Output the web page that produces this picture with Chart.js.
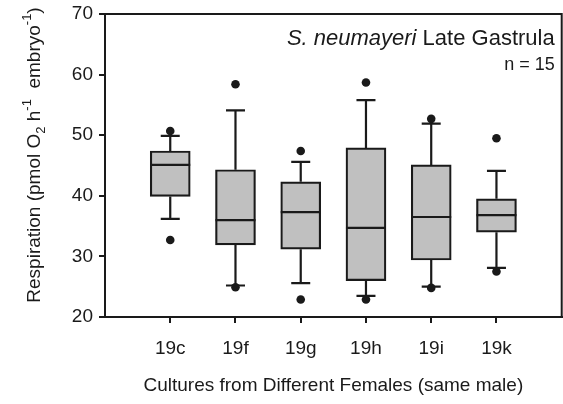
<!DOCTYPE html>
<html>
<head>
<meta charset="utf-8">
<script src="https://cdn.jsdelivr.net/npm/chart.js@4.4.1/dist/chart.umd.min.js"></script>
<style>
  html, body { margin: 0; padding: 0; background: #fff; overflow: hidden; }
  #wrap { width: 566px; height: 404px; position: relative; }
</style>
</head>
<body>
<div id="wrap"><canvas id="myChart"></canvas></div>
<script>
// Box plot values
const categories = ['19c', '19f', '19g', '19h', '19i', '19k'];
const q1 = [39.9, 31.9, 31.2, 26.0, 29.4, 34.0];
const medians = [45.1, 36.0, 37.3, 34.7, 36.5, 36.8];
const q3 = [47.4, 44.3, 42.3, 47.9, 45.1, 39.5];
const whiskerLow = [36.2, 25.2, 25.6, 23.5, 25.0, 28.1];
const whiskerHigh = [49.9, 54.1, 45.6, 55.8, 51.9, 44.1];
const outlierLow = [32.7, 24.9, 22.9, 22.9, 24.8, 27.5];
const outlierHigh = [50.7, 58.4, 47.4, 58.7, 52.7, 49.5];
const yTicks = [20, 30, 40, 50, 60, 70];

const ink = '#1a1a1a';
const fontName = '"Liberation Sans", Arial, sans-serif';

// whiskers, caps, medians, frame and the text labels
const boxParts = {
    id: 'boxParts',
    beforeDatasetsDraw(chart) {
        const ctx = chart.ctx;
        const xs = chart.scales.x, ys = chart.scales.y;
        ctx.save();
        ctx.strokeStyle = ink;
        ctx.lineWidth = 2.2;
        categories.forEach((c, i) => {
            const x = xs.getPixelForValue(i + 1);
            const capW = 9.5;
            [[q3[i], whiskerHigh[i]], [q1[i], whiskerLow[i]]].forEach(([from, to]) => {
                ctx.beginPath();
                ctx.moveTo(x, ys.getPixelForValue(from));
                ctx.lineTo(x, ys.getPixelForValue(to));
                ctx.moveTo(x - capW, ys.getPixelForValue(to));
                ctx.lineTo(x + capW, ys.getPixelForValue(to));
                ctx.stroke();
            });
        });
        ctx.restore();
    },
    afterDatasetsDraw(chart) {
        const ctx = chart.ctx;
        const ys = chart.scales.y;
        const bars = chart.getDatasetMeta(0).data;
        ctx.save();
        ctx.strokeStyle = ink;
        ctx.lineWidth = 2.2;
        bars.forEach((bar, i) => {
            const y = ys.getPixelForValue(medians[i]);
            ctx.beginPath();
            ctx.moveTo(bar.x - bar.width / 2, y);
            ctx.lineTo(bar.x + bar.width / 2, y);
            ctx.stroke();
        });
        // frame round the plot
        const a = chart.chartArea;
        ctx.lineWidth = 2;
        ctx.strokeRect(a.left, a.top, a.right - a.left, a.bottom - a.top);
        ctx.restore();
    },
    afterDraw(chart) {
        const ctx = chart.ctx;
        const a = chart.chartArea;
        ctx.save();
        ctx.fillStyle = ink;
        ctx.textBaseline = 'alphabetic';

        // title in the top right corner
        const right = a.right - 7;
        ctx.font = '22px ' + fontName;
        ctx.textAlign = 'right';
        ctx.fillText('Late Gastrula', right, a.top + 31);
        const w = ctx.measureText('Late Gastrula').width;
        ctx.font = 'italic 22px ' + fontName;
        ctx.fillText('S. neumayeri ', right - w, a.top + 31);
        ctx.font = '18px ' + fontName;
        ctx.fillText('n = 15', right, a.top + 56);

        // y axis title with sub- and superscripts
        const parts = [
            ['Respiration (pmol O', 19, 0],
            ['2', 13, 5],
            [' h', 19, 0],
            ['-1', 13, -9],
            ['  embryo', 19, 0],
            ['-1', 13, -9],
            [')', 19, 0]
        ];
        let total = 0;
        parts.forEach(p => {
            ctx.font = p[1] + 'px ' + fontName;
            total += ctx.measureText(p[0]).width;
        });
        ctx.translate(40, 155);
        ctx.rotate(-Math.PI / 2);
        ctx.textAlign = 'left';
        let cx = -total / 2;
        parts.forEach(p => {
            ctx.font = p[1] + 'px ' + fontName;
            ctx.fillText(p[0], cx, p[2]);
            cx += ctx.measureText(p[0]).width;
        });
        ctx.restore();
    }
};

function noPadding(s) {
    s.paddingLeft = 0; s.paddingRight = 0; s.paddingTop = 0; s.paddingBottom = 0;
}

const ctx = document.getElementById('myChart').getContext('2d');
new Chart(ctx, {
    type: 'bar',
    data: {
        datasets: [{
            type: 'bar',
            data: categories.map((c, i) => ({ x: i + 1, y: [q1[i], q3[i]] })),
            backgroundColor: '#c0c0c0',
            borderColor: ink,
            borderWidth: 2.2,
            borderSkipped: false,
            barThickness: 40
        }, {
            type: 'scatter',
            data: categories.flatMap((c, i) => [
                { x: i + 1, y: outlierLow[i] },
                { x: i + 1, y: outlierHigh[i] }
            ]),
            pointRadius: 4.3,
            pointBackgroundColor: ink,
            pointBorderWidth: 0
        }]
    },
    plugins: [boxParts],
    options: {
        responsive: true,
        maintainAspectRatio: false,
        animation: false,
        events: [],
        layout: { padding: { top: 14, right: 1, left: 0, bottom: 0 } },
        plugins: {
            legend: { display: false },
            tooltip: { enabled: false }
        },
        scales: {
            x: {
                type: 'linear',
                min: 0,
                max: 7,
                offset: false,
                afterBuildTicks: s => { s.ticks = categories.map((c, i) => ({ value: i + 1 })); },
                afterFit: s => { s.height = 87; noPadding(s); },
                ticks: {
                    callback: v => categories[v - 1] || '',
                    color: ink,
                    font: { family: fontName, size: 19 },
                    padding: 14,
                    maxRotation: 0
                },
                grid: { offset: false, drawOnChartArea: false, tickLength: 6, color: ink, lineWidth: 2 },
                border: { color: ink, width: 2 },
                title: {
                    display: true,
                    text: 'Cultures from Different Females (same male)',
                    color: ink,
                    font: { family: fontName, size: 19 },
                    padding: { top: 0, bottom: 7 }
                }
            },
            y: {
                min: 20,
                max: 70,
                afterBuildTicks: s => { s.ticks = yTicks.map(v => ({ value: v })); },
                afterFit: s => { s.width = 105; noPadding(s); },
                ticks: {
                    color: ink,
                    font: { family: fontName, size: 19 },
                    padding: 6
                },
                grid: { drawOnChartArea: false, tickLength: 6, color: ink, lineWidth: 2 },
                border: { color: ink, width: 2 }
            }
        }
    }
});
</script>
</body>
</html>
